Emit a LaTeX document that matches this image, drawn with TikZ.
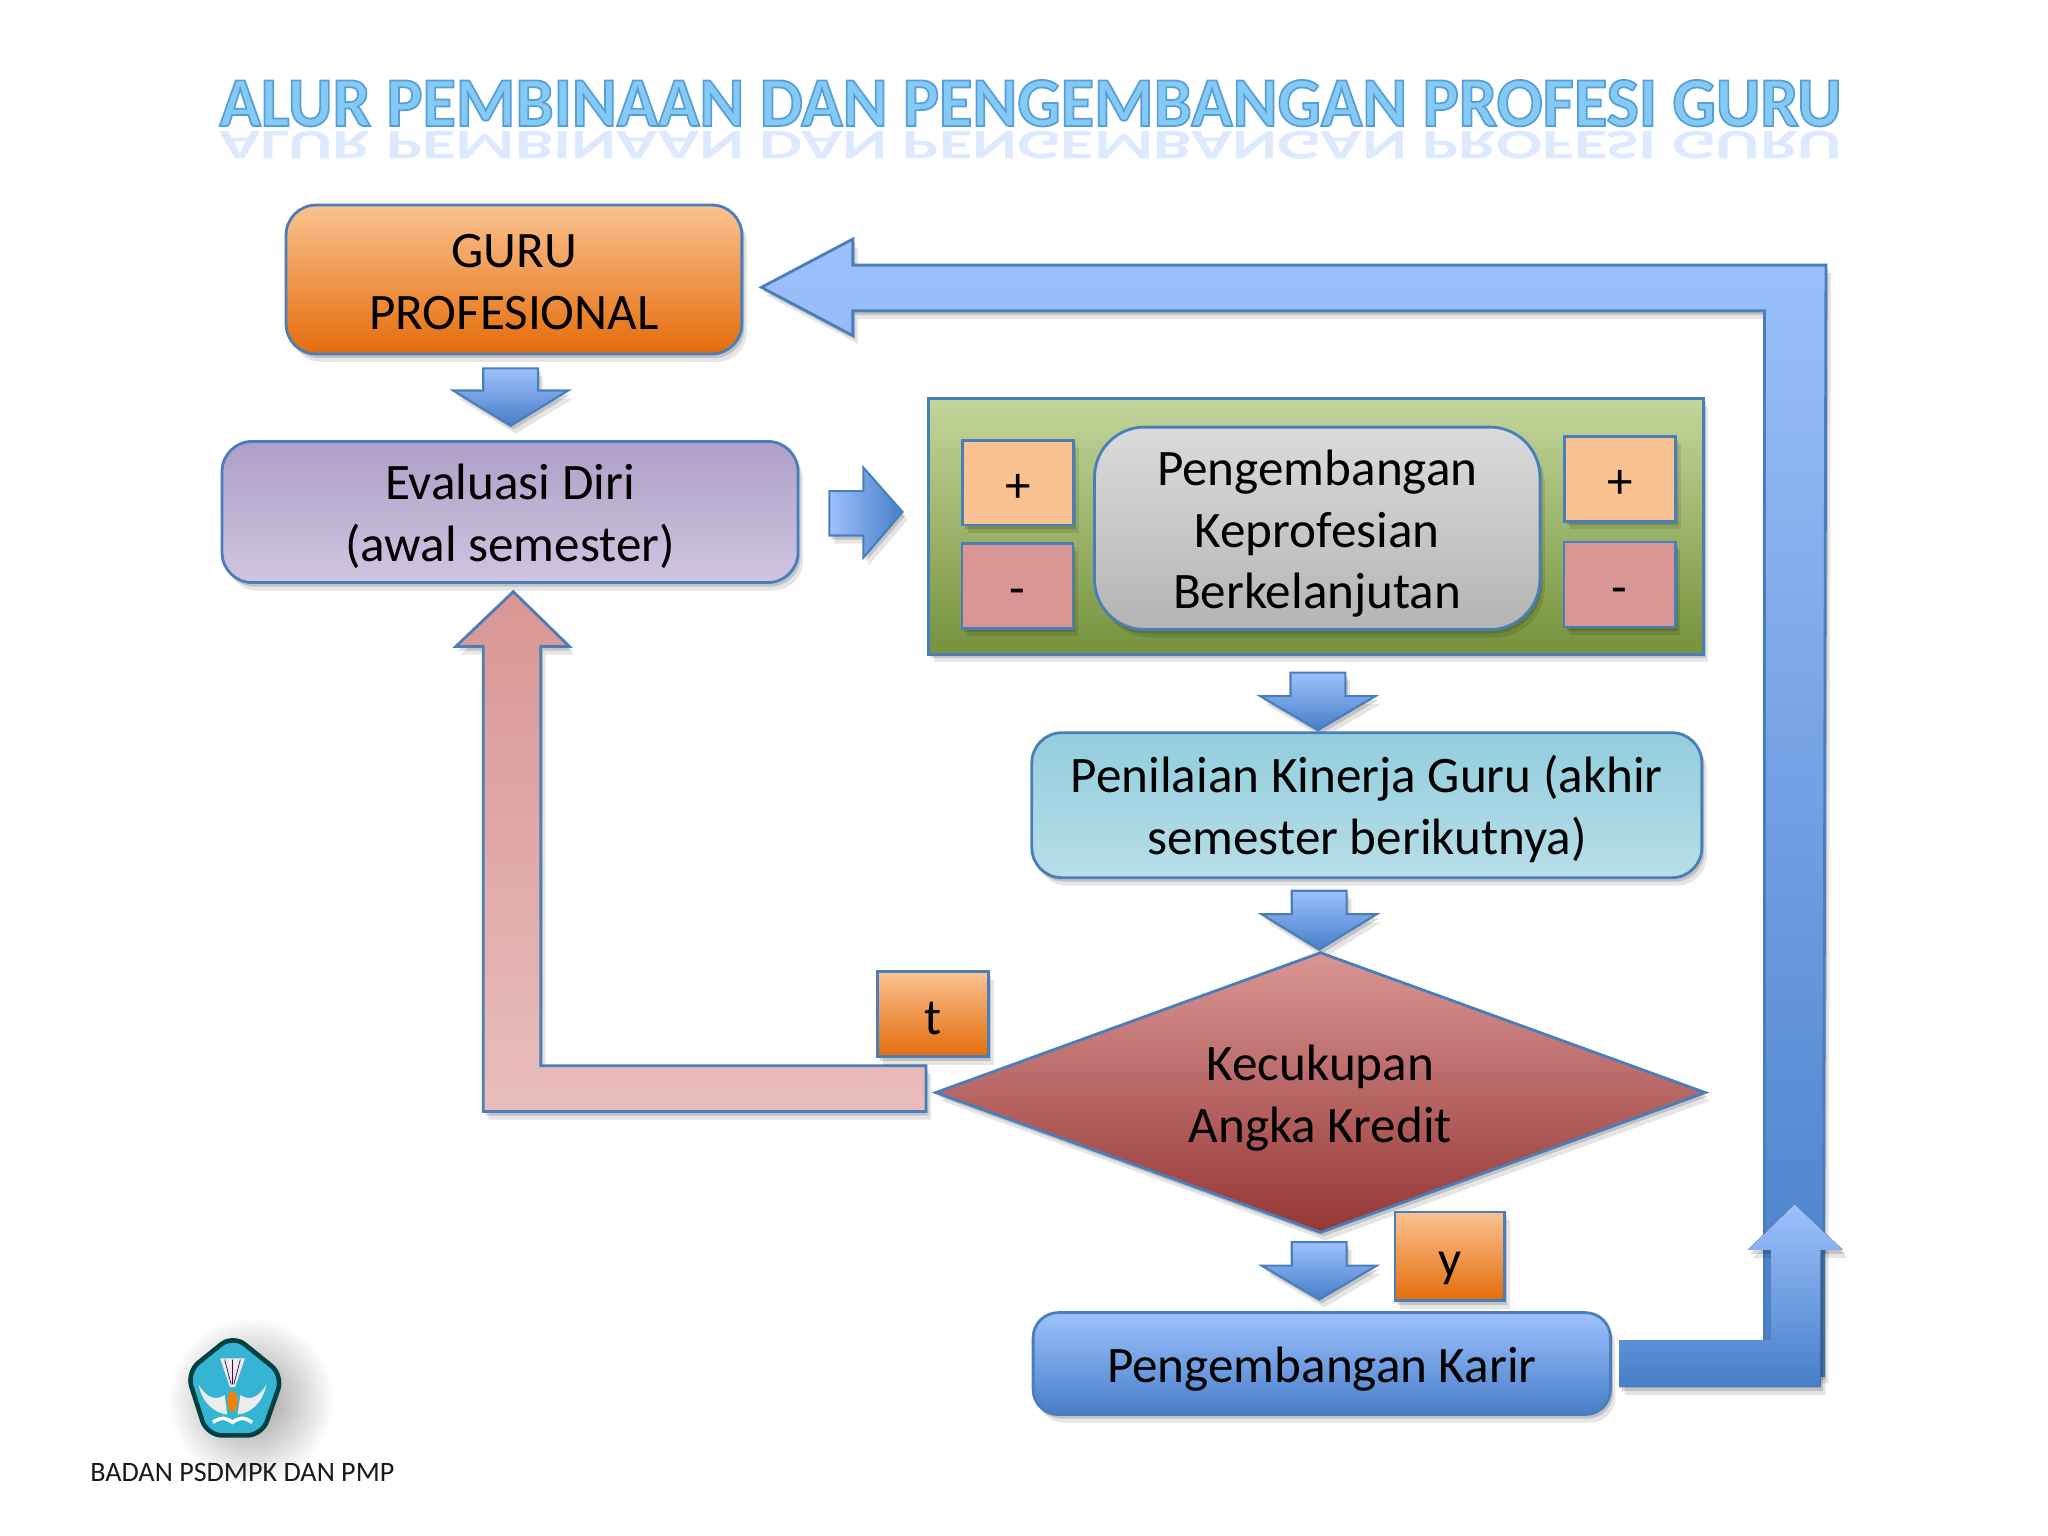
\documentclass[tikz,border=0pt]{standalone}
\usepackage{xcolor}
\usepackage{fontspec}
\setmainfont{Carlito}
\usetikzlibrary{shapes.geometric,shadows,fadings}

\definecolor{lineblue}{HTML}{4A7EBB}
\definecolor{lowblue}{HTML}{477EC9}
\definecolor{lightblue}{HTML}{9DC1FC}
\definecolor{orangetop}{HTML}{FBC291}
\definecolor{orangelow}{HTML}{E46C0A}
\definecolor{pinkflat}{HTML}{D99694}
\definecolor{pinklight}{HTML}{E8BDBC}
\definecolor{redlow}{HTML}{953735}
\definecolor{purpletop}{HTML}{AE9FC8}
\definecolor{purplelow}{HTML}{CFC5E0}
\definecolor{greentop}{HTML}{C3D69B}
\definecolor{greenlow}{HTML}{76923C}
\definecolor{greytop}{HTML}{DADBDC}
\definecolor{greylow}{HTML}{B4B4B4}
\definecolor{tealtop}{HTML}{93CDDD}
\definecolor{teallow}{HTML}{B7DEE8}
\definecolor{logoteal}{HTML}{36B4D4}
\def\px{0.01306cm}
\newcommand{\turun}[1]{\raisebox{-1.8pt}[\height][\depth]{\begin{tabular}{@{}c@{}}#1\end{tabular}}}
\tikzfading[name=fadedown, top color=transparent!40, bottom color=transparent!100]

\begin{document}
\begin{tikzpicture}%
                    [x={(\px, 0cm)},
                    y={(0cm, -\px)},
                    softshadow/.style={drop shadow={shadow xshift=0.5mm, shadow yshift=-0.8mm, opacity=0.1, fill=black},
                                       drop shadow={shadow xshift=0.25mm, shadow yshift=-0.4mm, opacity=0.15, fill=black}},
                    box/.style={draw=lineblue, line width=0.8pt, align=center, inner sep=0pt, softshadow,
                                font=\fontsize{14.55}{17.6}\selectfont},
                    roundbox/.style={box, rounded corners=3mm},
                    smallsq/.style={box, minimum width=85*\px, minimum height=65*\px, text height=13pt, text depth=1.6pt},
                    bluearrow/.style={draw=lineblue, line width=0.6pt, top color=lightblue, bottom color=lowblue, softshadow},
                    title/.style={font=\fontsize{20}{24}\bfseries\selectfont, xscale=0.97, transform shape}]
                %% Page
                \useasboundingbox (0,0) rectangle (1568,1176);
                %%
                %% Title
                %%
                \begin{scope}[scope fading=fadedown, fading transform={shift={(789,110)}, xscale=20, yscale=0.12}]
                \node[title, yscale=-0.6, text=lightblue!60!white, opacity=0.6] (bayangan) at (789,111) {ALUR PEMBINAAN DAN PENGEMBANGAN PROFESI GURU};
                \end{scope}
                \node[title] (judul) at (789,79) {\special{pdf:code 2 Tr 0.5 w 0.33 0.62 0.85 RG 0.52 0.79 0.96 rg}ALUR PEMBINAAN DAN PENGEMBANGAN PROFESI GURU\special{pdf:code 0 Tr}};
                %%
                %% Long arrows
                %%
                \draw[draw=lineblue, line width=0.8pt, top color=lightblue, bottom color=lowblue, softshadow] (583,220) -- (653,183) -- (653,203) -- (1398,203) -- (1396,1053) -- (1351,1053) -- (1351,238) -- (653,238) -- (653,257) -- cycle;
                \fill[top color=lightblue, bottom color=lowblue, softshadow] (1240,1026) -- (1356,1026) -- (1356,957) -- (1338,957) -- (1374,922) -- (1411,957) -- (1394,957) -- (1394,1062) -- (1240,1062) -- cycle;
                \draw[draw=lineblue, line width=0.8pt, top color=pinkflat, bottom color=pinklight, softshadow] (393,453) -- (436,495) -- (414,495) -- (414,816) -- (709,816) -- (709,851) -- (370,851) -- (370,495) -- (349,495) -- cycle;
                %%
                %% Small arrows
                %%
                \draw[bluearrow] (370,282) -- (412,282) -- (412,299) -- (435,299) -- (391,326) -- (347,299) -- (370,299) -- cycle;
                \draw[bluearrow] (988,515) -- (1030,515) -- (1030,533) -- (1053,533) -- (1009,559) -- (965,533) -- (988,533) -- cycle;
                \draw[bluearrow] (989,682) -- (1031,682) -- (1031,700) -- (1054,700) -- (1010,727) -- (966,700) -- (989,700) -- cycle;
                \draw[bluearrow] (989,951) -- (1031,951) -- (1031,969) -- (1054,969) -- (1010,995) -- (966,969) -- (989,969) -- cycle;
                \draw[draw=lineblue, line width=0.6pt, left color=lightblue, right color=lowblue, softshadow] (635,376) -- (661,376) -- (661,358) -- (691,392) -- (661,427) -- (661,410) -- (635,410) -- cycle;
                %%
                %% Boxes
                %%
                \node[roundbox, top color=orangetop, bottom color=orangelow, minimum width=349*\px, minimum height=114*\px] (guru) at (393.5,214) {\turun{GURU\\PROFESIONAL}};
                \node[roundbox, top color=purpletop, bottom color=purplelow, minimum width=441*\px, minimum height=108*\px] (evaluasi) at (390.5,392) {\turun{Evaluasi Diri\\(awal semester)}};
                \node[box, top color=greentop, bottom color=greenlow, minimum width=593*\px, minimum height=196*\px] (hijau) at (1007.5,403) {};
                \node[smallsq, fill=orangetop] (plusa) at (779.5,369.5) {+};
                \node[smallsq, fill=pinkflat] (minusa) at (779,448.5) {-};
                \node[roundbox, rounded corners=5mm, top color=greytop, bottom color=greylow, minimum width=341*\px, minimum height=155*\px] (pkb) at (1008.5,404.5) {\turun{Pengembangan\\Keprofesian\\Berkelanjutan}};
                \node[smallsq, fill=orangetop] (plusb) at (1240.5,366.5) {+};
                \node[smallsq, fill=pinkflat] (minusb) at (1240,447.5) {-};
                \node[roundbox, top color=tealtop, bottom color=teallow, minimum width=513*\px, minimum height=111*\px] (penilaian) at (1046.5,616.5) {\turun{Penilaian Kinerja Guru (akhir\\semester berikutnya)}};
                \node[box, diamond, aspect=2.74, top color=pinkflat, bottom color=redlow, minimum width=590*\px, minimum height=215*\px] (kecukupan) at (1011,836.5) {\turun{Kecukupan\\Angka Kredit}};
                \node[smallsq, top color=orangetop, bottom color=orangelow] (t) at (714.5,776.5) {t};
                \node[smallsq, top color=orangetop, bottom color=orangelow, minimum width=84*\px, minimum height=68*\px] (y) at (1110,962) {y};
                \node[roundbox, rounded corners=2.5mm, top color=lightblue, bottom color=lowblue, minimum width=442*\px, minimum height=78*\px] (karir) at (1012,1044) {\turun{Pengembangan Karir}};
                %%
                %% Logo
                %%
                \shade[inner color=black!40, outer color=white, draw=none] (192,1072) circle (64);
                \draw[draw=black!50!teal, line width=1.3pt, fill=logoteal, rounded corners=1.5mm] (178.4,1022) -- (216.7,1053) -- (200.6,1099) -- (158.5,1099) -- (143,1050.5) -- cycle;
                \fill[white!85!gray] (168.5,1040) -- (187.5,1040) -- (180,1062) -- (176,1062) -- cycle;
                \draw[violet!60!black, very thin] (172,1041) -- (177,1060) (178,1041) -- (178,1060) (184,1041) -- (179,1060);
                \fill[white!85!gray] (152,1060) .. controls (155,1075) and (165,1082) .. (174,1083) -- (172,1068) .. controls (165,1073) and (158,1070) .. (152,1060) -- cycle;
                \fill[white!85!gray] (204,1060) .. controls (201,1075) and (191,1082) .. (182,1083) -- (184,1068) .. controls (191,1073) and (198,1070) .. (204,1060) -- cycle;
                \fill[orange!80!brown] (178,1073) ellipse (4 and 8);
                \draw[white, line width=1pt] (163,1089) .. controls (170,1084) and (174,1086) .. (178,1089) .. controls (182,1086) and (186,1084) .. (193,1089);
                \node[font=\fontsize{8}{10}\selectfont, inner sep=0pt, text=black!90] (badan) at (185.5,1127) {BADAN PSDMPK DAN PMP};
                \end{tikzpicture}
\end{document}
